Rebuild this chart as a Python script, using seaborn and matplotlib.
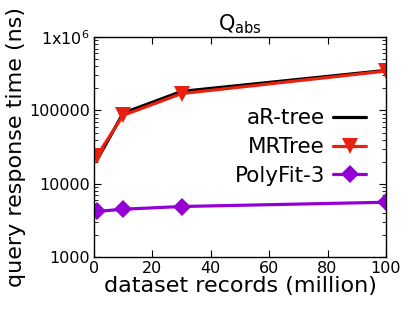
import pandas as pd
import matplotlib
matplotlib.use("Agg")
import matplotlib.pyplot as plt
import matplotlib.ticker as mticker
import seaborn as sns

sns.set_style("ticks")
plt.rcParams["font.family"] = ["DejaVu Sans"]
plt.rcParams["text.color"] = "black"
plt.rcParams["axes.labelcolor"] = "black"
plt.rcParams["xtick.color"] = "black"
plt.rcParams["ytick.color"] = "black"

# Data
records = [1, 10, 30, 100]
ar_tree = [21000, 92000, 182000, 352000]
mrtree = [24000, 86000, 170000, 345000]
polyfit3 = [4200, 4500, 4900, 5600]

series = [
    ("aR-tree", ar_tree, "#000000", None),
    ("MRTree", mrtree, "#e8200f", "v"),
    ("PolyFit-3", polyfit3, "#9400d3", "D"),
]

fig = plt.figure(figsize=(4.15, 3.23), dpi=100)
ax = fig.add_axes([0.2265, 0.204, 0.7035, 0.681])

for name, values, color, marker in series:
    df = pd.DataFrame({"records": records, "time": values})
    sns.lineplot(data=df, x="records", y="time", color=color, marker=marker,
                 linewidth=2.3, markersize=11 if marker == "v" else 9,
                 markeredgewidth=0, label=name, ax=ax)

ax.set_yscale("log")
ax.set_xlim(0, 100)
ax.set_ylim(1000, 1e6)
ax.set_xticks([0, 20, 40, 60, 80, 100])
ax.set_yticks([1000, 10000, 100000, 1e6])
ax.yaxis.set_major_formatter(mticker.FixedFormatter(["1000", "10000", "100000", "1x10$^6$"]))
ax.yaxis.set_minor_locator(mticker.LogLocator(base=10, subs=range(2, 10)))
ax.yaxis.set_minor_formatter(mticker.NullFormatter())
ax.tick_params(axis="both", which="both", direction="in", top=True, right=True,
               labelsize=11.5, pad=3)
ax.tick_params(axis="both", which="major", length=5)
ax.tick_params(axis="y", which="minor", length=3)

for s in ax.spines.values():
    s.set_linewidth(1.0)
    s.set_color("black")

ax.set_title("Q$_{\\mathregular{abs}}$", fontsize=15, pad=5)
ax.set_xlabel("dataset records (million)", fontsize=16, labelpad=0)
ax.set_ylabel("query response time (ns)", fontsize=16, labelpad=2)

ax.legend(loc="upper right", bbox_to_anchor=(0.96, 0.715), frameon=False,
          markerfirst=False, fontsize=15.5, handlelength=1.5, handletextpad=0.4,
          labelspacing=0.4, borderaxespad=0)

fig.savefig("out.png", dpi=100)
